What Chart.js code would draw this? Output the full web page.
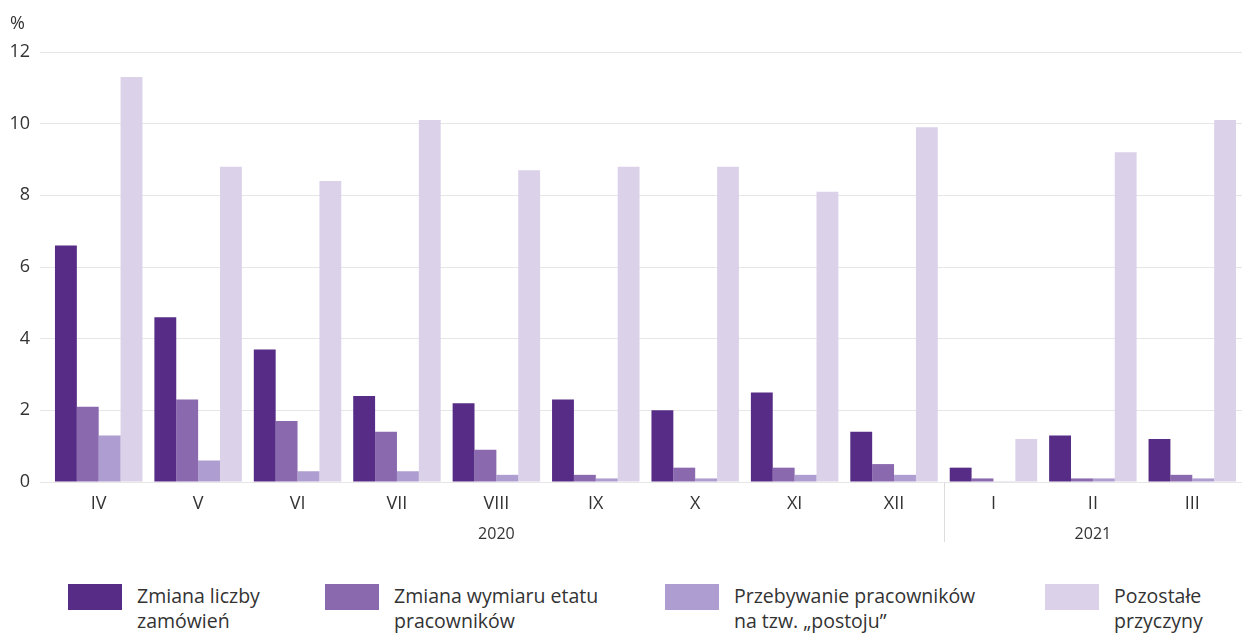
<!DOCTYPE html>
<html>
<head>
<meta charset="utf-8">
<script src="https://cdn.jsdelivr.net/npm/chart.js@4"></script>
<style>
  body { margin: 0; background: #fff; }
  #wrap { position: relative; width: 1242px; height: 635px; font-family: "Open Sans", sans-serif; color: #333; }
  #legend { position: absolute; left: 0; top: 584px; width: 1242px; height: 51px; }
  .item { position: absolute; top: 0; display: flex; }
  .sw { width: 54px; height: 26px; }
  .txt { margin-left: 15px; font-size: 19.5px; line-height: 25px; margin-top: -1px; }
</style>
</head>
<body>
<div id="wrap">
  <canvas id="chart" width="1242" height="560"></canvas>
  <div id="legend"></div>
</div>
<script>
const months = ["IV", "V", "VI", "VII", "VIII", "IX", "X", "XI", "XII", "I", "II", "III"];
const years = [
  { label: "2020", from: 0, to: 8 },
  { label: "2021", from: 9, to: 11 }
];
const yTicks = [0, 2, 4, 6, 8, 10, 12];

const seriesNames = [
  ["Zmiana liczby", "zamówień"],
  ["Zmiana wymiaru etatu", "pracowników"],
  ["Przebywanie pracowników", "na tzw. „postoju”"],
  ["Pozostałe", "przyczyny"]
];
const zmianaLiczby   = [6.6, 4.6, 3.7, 2.4, 2.2, 2.3, 2.0, 2.5, 1.4, 0.4, 1.3, 1.2];
const zmianaWymiaru  = [2.1, 2.3, 1.7, 1.4, 0.9, 0.2, 0.4, 0.4, 0.5, 0.1, 0.1, 0.2];
const postoj         = [1.3, 0.6, 0.3, 0.3, 0.2, 0.1, 0.1, 0.2, 0.2, 0.02, 0.1, 0.1];
const pozostale      = [11.3, 8.8, 8.4, 10.1, 8.7, 8.8, 8.8, 8.1, 9.9, 1.2, 9.2, 10.1];

const colors = ["#572c86", "#8a69ae", "#ae9dd1", "#dbd2ea"];
const legendX = [68, 325, 665, 1045];

const allSeries = [zmianaLiczby, zmianaWymiaru, postoj, pozostale];

// legenda w HTML (dwie linie tekstu)
const legendDiv = document.getElementById("legend");
seriesNames.forEach((name, i) => {
  const it = document.createElement("div");
  it.className = "item";
  it.style.left = legendX[i] + "px";
  it.innerHTML = `<div class="sw" style="background:${colors[i]}"></div><div class="txt">${name[0]}<br>${name[1]}</div>`;
  legendDiv.appendChild(it);
});

const FONT = "'Open Sans', sans-serif";

// procent, lata i separator
const extras = {
  id: "extras",
  afterDraw(chart) {
    const ctx = chart.ctx;
    const x = chart.scales.x;
    const area = chart.chartArea;
    ctx.save();
    ctx.fillStyle = "#333";
    ctx.font = "18px " + FONT;
    ctx.textAlign = "left";
    ctx.textBaseline = "middle";
    ctx.fillText("%", 10, 24);

    ctx.font = "16px " + FONT;
    ctx.textAlign = "center";
    years.forEach(y => {
      const cx = (x.getPixelForValue(y.from) + x.getPixelForValue(y.to)) / 2;
      ctx.fillText(y.label, cx, 534);
    });

    for (let k = 1; k < years.length; k++) {
      const sx = Math.round((x.getPixelForValue(years[k].from - 1) + x.getPixelForValue(years[k].from)) / 2) + 0.5;
      ctx.strokeStyle = "#dcdcdc";
      ctx.lineWidth = 1;
      ctx.beginPath();
      ctx.moveTo(sx, area.bottom);
      ctx.lineTo(sx, 542);
      ctx.stroke();
    }
    ctx.restore();
  }
};

new Chart(document.getElementById("chart"), {
  type: "bar",
  data: {
    labels: months,
    datasets: allSeries.map((d, i) => ({
      label: seriesNames[i].join(" "),
      data: d,
      backgroundColor: colors[i],
      barPercentage: 1,
      categoryPercentage: 0.88
    }))
  },
  options: {
    responsive: false,
    animation: false,
    devicePixelRatio: 1,
    layout: { padding: { top: 52, right: 0, left: 0, bottom: 0 } },
    plugins: { legend: { display: false }, tooltip: { enabled: false } },
    scales: {
      x: {
        grid: { display: false },
        border: { display: false },
        ticks: { color: "#333", font: { family: FONT, size: 18 }, padding: 3 },
        afterFit(s) { s.height = 78; }
      },
      y: {
        min: 0,
        max: 12,
        afterBuildTicks(s) { s.ticks = yTicks.map(v => ({ value: v })); },
        grid: { color: "#e6e6e6", tickLength: 9, tickColor: "#e6e6e6" },
        border: { display: false },
        ticks: { color: "#333", font: { family: FONT, size: 18 }, padding: 10 },
        afterFit(s) { s.width = 49; }
      }
    }
  },
  plugins: [extras]
});
</script>
</body>
</html>
